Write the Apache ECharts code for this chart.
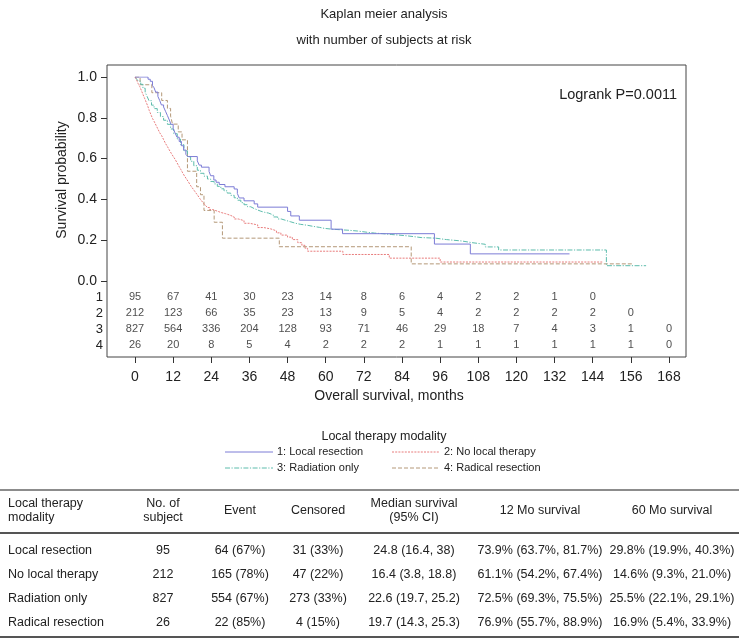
<!DOCTYPE html>
<html><head><meta charset="utf-8">
<script src="https://cdn.jsdelivr.net/npm/echarts@6/dist/echarts.min.js"></script>
<style>html,body{margin:0;padding:0;background:#fff}#c{width:739px;height:640px}</style>
</head><body><div id="c"></div>
<script>
// ---------------- data ----------------
const groupNames = ['1: Local resection', '2: No local therapy', '3: Radiation only', '4: Radical resection'];

// Kaplan-Meier steps: [month, survival] (value holds from that month on)
const kmLocalResection = [[0,1],[4.1,0.989],[4.8,0.979],[5.5,0.958],[6.0,0.947],[6.5,0.926],[7.2,0.905],[7.8,0.884],[8.3,0.863],[9.0,0.853],[9.6,0.832],[10.2,0.811],[10.8,0.789],[11.3,0.768],[12.0,0.747],[12.6,0.726],[13.2,0.705],[13.9,0.684],[14.6,0.663],[15.3,0.642],[16.0,0.621],[16.6,0.610],[19.6,0.589],[20.2,0.568],[20.9,0.558],[23.3,0.537],[23.8,0.516],[24.8,0.495],[25.5,0.484],[26.5,0.473],[28.3,0.462],[31.2,0.451],[32.2,0.429],[32.8,0.407],[34.3,0.393],[37.5,0.378],[38.6,0.362],[48.0,0.341],[49.0,0.319],[51.7,0.298],[61.7,0.254],[65.3,0.232],[94.2,0.181],[105.5,0.133],[136.7,0.133]];
const kmNoLocalTherapy = [[0,1],[0.5,0.986],[1.0,0.967],[1.5,0.953],[2.0,0.934],[2.5,0.915],[3.0,0.896],[3.5,0.877],[4.0,0.858],[4.5,0.835],[5.0,0.816],[5.5,0.797],[6.0,0.783],[6.6,0.764],[7.2,0.745],[7.8,0.726],[8.4,0.712],[9.0,0.693],[9.6,0.674],[10.2,0.659],[10.8,0.642],[11.4,0.626],[12.0,0.611],[12.6,0.597],[13.2,0.580],[13.8,0.563],[14.4,0.547],[15.0,0.530],[15.6,0.514],[16.2,0.500],[16.8,0.486],[17.4,0.470],[18.0,0.457],[18.6,0.444],[19.2,0.431],[19.8,0.418],[20.4,0.404],[21.0,0.392],[21.6,0.380],[22.2,0.370],[22.8,0.360],[23.5,0.350],[24.5,0.342],[26.0,0.336],[27.0,0.330],[28.5,0.322],[30.0,0.314],[31.2,0.304],[32.5,0.296],[34.3,0.283],[36.0,0.275],[38.6,0.262],[40.5,0.255],[42.8,0.246],[44.5,0.236],[45.9,0.225],[48.0,0.215],[49.5,0.203],[51.2,0.188],[52.5,0.175],[53.5,0.160],[54.3,0.146],[65.4,0.130],[80.0,0.112],[96.0,0.093],[147.0,0.093]];
const kmRadiationOnly = [[0,1],[0.5,0.99],[1.0,0.98],[1.8,0.964],[2.5,0.945],[3.2,0.925],[3.8,0.905],[4.4,0.884],[5.2,0.862],[6.0,0.845],[7.0,0.826],[8.0,0.806],[9.0,0.788],[10.2,0.768],[11.2,0.745],[12.2,0.722],[13.3,0.696],[14.3,0.668],[15.4,0.638],[16.5,0.609],[17.5,0.587],[18.5,0.565],[19.6,0.543],[20.6,0.528],[21.7,0.514],[22.8,0.5],[23.8,0.488],[24.9,0.476],[25.9,0.464],[27.0,0.452],[28.0,0.442],[29.0,0.431],[30.1,0.42],[31.2,0.408],[32.2,0.396],[33.3,0.384],[34.3,0.374],[35.4,0.364],[36.4,0.355],[37.5,0.348],[38.6,0.342],[39.6,0.337],[40.7,0.333],[42.0,0.324],[43.5,0.314],[44.9,0.304],[46.0,0.297],[47.5,0.29],[49.0,0.283],[50.5,0.278],[52.0,0.273],[54.3,0.268],[56.0,0.263],[58.0,0.258],[59.6,0.254],[62.0,0.251],[64.8,0.249],[67.0,0.245],[70.0,0.239],[73.0,0.235],[75.3,0.232],[78.0,0.228],[80.6,0.225],[83.0,0.221],[85.8,0.217],[88.0,0.213],[90.0,0.21],[94.5,0.203],[98.0,0.196],[102.9,0.188],[106.0,0.18],[110.2,0.167],[114.4,0.152],[148.3,0.075],[160.8,0.075]];
const kmRadicalResection = [[0,1],[1.6,0.962],[5.3,0.923],[8.4,0.885],[10.2,0.846],[11.2,0.808],[11.8,0.769],[13.6,0.731],[14.8,0.692],[16.5,0.538],[19.4,0.462],[20.6,0.423],[21.7,0.346],[24.9,0.288],[27.5,0.21],[45.4,0.168],[86.9,0.084],[156.7,0.084]];

// numbers at risk
const riskTimes = [0,12,24,36,48,60,72,84,96,108,120,132,144,156,168];
const riskLabels = ['1','2','3','4'];
const riskGroup1 = [95,67,41,30,23,14,8,6,4,2,2,1,0];
const riskGroup2 = [212,123,66,35,23,13,9,5,4,2,2,2,2,0];
const riskGroup3 = [827,564,336,204,128,93,71,46,29,18,7,4,3,1,0];
const riskGroup4 = [26,20,8,5,4,2,2,2,1,1,1,1,1,1,0];

// summary table
const tableHeaders = [['Local therapy','modality'],['No. of','subject'],['Event'],['Censored'],['Median survival','(95% CI)'],['12 Mo survival'],['60 Mo survival']];
const tableRows = [
  ['Local resection','95','64 (67%)','31 (33%)','24.8 (16.4, 38)','73.9% (63.7%, 81.7%)','29.8% (19.9%, 40.3%)'],
  ['No local therapy','212','165 (78%)','47 (22%)','16.4 (3.8, 18.8)','61.1% (54.2%, 67.4%)','14.6% (9.3%, 21.0%)'],
  ['Radiation only','827','554 (67%)','273 (33%)','22.6 (19.7, 25.2)','72.5% (69.3%, 75.5%)','25.5% (22.1%, 29.1%)'],
  ['Radical resection','26','22 (85%)','4 (15%)','19.7 (14.3, 25.3)','76.9% (55.7%, 88.9%)','16.9% (5.4%, 33.9%)']
];

// ---------------- styling / layout ----------------
const FONT = '"Liberation Sans", Arial, Helvetica, sans-serif';
const colors = ['#7c7cd6', '#e87c7c', '#5cbcac', '#b49878'];
const dashes = ['solid', [2, 1.2], [5, 1.5, 1.2, 1.5], [4, 2]];
const kmData = [kmLocalResection, kmNoLocalTherapy, kmRadiationOnly, kmRadicalResection];
const riskData = [riskGroup1, riskGroup2, riskGroup3, riskGroup4];

const X0 = 135, X1 = 669;      // month 0 / 168
const Y1 = 77, Y0 = 281;       // survival 1 / 0
const BOX = {l: 107, r: 686, t: 65, b: 357};
const W = 739, H = 640;

const series = [];
kmData.forEach((d, i) => {
  series.push({
    type: 'line', name: groupNames[i], step: 'end', data: d,
    xAxisIndex: 1, yAxisIndex: 1, symbol: 'none', showSymbol: false, silent: true,
    lineStyle: {color: colors[i], width: 1, type: dashes[i]}, z: 4 - i
  });
});
const riskPts = [];
riskData.forEach((arr, r) => arr.forEach((v, k) => riskPts.push([riskTimes[k], r, v])));
series.push({
  type: 'scatter', xAxisIndex: 4, yAxisIndex: 4, data: riskPts, symbolSize: 1, silent: true,
  itemStyle: {color: 'rgba(0,0,0,0)'},
  label: {show: true, position: 'inside', formatter: p => String(p.value[2]), fontSize: 11, color: '#222', fontFamily: FONT}
});

const g = [];
const txt = (text, x, y, size, align, extra) => Object.assign({
  type: 'text', x: x, y: y, silent: true,
  style: {text: text, font: size + 'px ' + FONT, fill: '#222', align: align || 'center', verticalAlign: 'middle', textAlign: align || 'center', textVerticalAlign: 'middle'}
}, extra || {});
const line = (x1, y1, x2, y2, color, width, dash) => ({
  type: 'line', silent: true, shape: {x1, y1, x2, y2},
  style: {stroke: color, lineWidth: width, lineDash: dash || null}
});

// titles
g.push(txt('Kaplan meier analysis', 384, 14, 13));
g.push(txt('with number of subjects at risk', 384, 40, 13));
g.push(txt('Logrank P=0.0011', 677, 95, 14.5, 'right'));
g.push(txt('Survival probability', 62, 180, 14, 'center', {rotation: Math.PI / 2}));
g.push(txt('Overall survival, months', 389, 396, 14));

// legend
g.push(txt('Local therapy modality', 384, 437, 12.5));
const legPos = [[225, 452], [392, 452], [225, 468], [392, 468]];
groupNames.forEach((n, i) => {
  const [lx, ly] = legPos[i];
  g.push(line(lx, ly, lx + 48, ly, colors[i], 1, dashes[i] === 'solid' ? null : dashes[i]));
  g.push(txt(n, lx + 52, ly, 11, 'left'));
});

// table
const colX = [8, 163, 240, 318, 414, 540, 672];
const rowY = [551, 575, 599, 623];
g.push(line(0, 490, W, 490, '#666', 1.5));
g.push(line(0, 533, W, 533, '#555', 2));
g.push(line(0, 637, W, 637, '#555', 2));
tableHeaders.forEach((h, c) => {
  const al = c === 0 ? 'left' : 'center';
  if (h.length === 2) { g.push(txt(h[0], colX[c], 504, 12.5, al)); g.push(txt(h[1], colX[c], 518, 12.5, al)); }
  else g.push(txt(h[0], colX[c], 511, 12.5, al));
});
tableRows.forEach((row, r) => row.forEach((cell, c) => {
  g.push(txt(cell, colX[c], rowY[r], 12.5, c === 0 ? 'left' : 'center'));
}));

const hiddenX = (gi, max) => ({gridIndex: gi, type: 'value', show: false, min: 0, max: max});
const option = {
  animation: false,
  backgroundColor: '#fff',
  textStyle: {fontFamily: FONT},
  grid: [
    {left: BOX.l, right: W - BOX.r, top: BOX.t, bottom: H - BOX.b, show: true, borderColor: '#444', borderWidth: 1, backgroundColor: 'transparent'},
    {left: X0, right: W - X1, top: Y1, height: Y0 - Y1},
    {left: BOX.l, right: W - BOX.r, top: Y1, height: Y0 - Y1},
    {left: X0, right: W - X1, top: BOX.t, bottom: H - BOX.b},
    {left: X0, right: W - X1, top: 289, height: 64}
  ],
  xAxis: [
    hiddenX(0, 1),
    hiddenX(1, 168),
    hiddenX(2, 1),
    {gridIndex: 3, type: 'value', min: 0, max: 168, interval: 12,
      axisLine: {show: false}, axisTick: {show: true, length: 6, lineStyle: {color: '#333'}},
      axisLabel: {fontSize: 14, color: '#222', margin: 13, fontFamily: FONT}, splitLine: {show: false}},
    hiddenX(4, 168)
  ],
  yAxis: [
    hiddenX(0, 1),
    hiddenX(1, 1),
    {gridIndex: 2, type: 'value', min: 0, max: 1, interval: 0.2,
      axisLine: {show: false}, axisTick: {show: true, length: 6, lineStyle: {color: '#333'}},
      axisLabel: {fontSize: 14, color: '#222', margin: 10, formatter: v => v.toFixed(1), fontFamily: FONT}, splitLine: {show: false}},
    hiddenX(3, 1),
    {gridIndex: 4, type: 'category', inverse: true, data: riskLabels, offset: X0 - BOX.l,
      axisLine: {show: false}, axisTick: {show: false},
      axisLabel: {interval: 0, fontSize: 13, color: '#222', margin: 4, fontFamily: FONT}, splitLine: {show: false}}
  ],
  series: series,
  graphic: {elements: g}
};
const chart = echarts.init(document.getElementById('c'), null, {renderer: 'canvas'});
chart.setOption(option);
</script>
</body></html>
